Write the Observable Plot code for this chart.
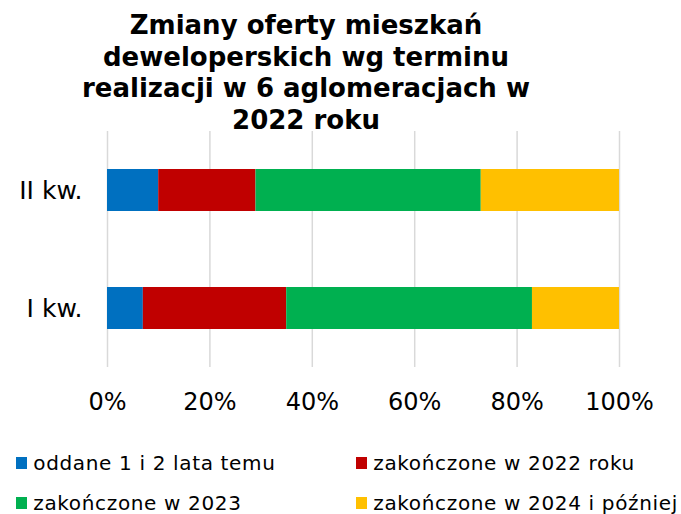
<!DOCTYPE html>
<html>
<head>
<meta charset="utf-8">
<script src="https://cdn.jsdelivr.net/npm/d3@7"></script>
<script src="https://cdn.jsdelivr.net/npm/@observablehq/plot@0.6"></script>
<style>
  html, body { margin: 0; padding: 0; background: #fff; }
  #wrap { position: relative; width: 681px; height: 514px; overflow: hidden; font-family: "DejaVu Sans", Verdana, sans-serif; color: #000; }
  #title { position: absolute; left: 0; top: 10px; width: 612px; text-align: center; font-weight: bold; font-size: 26px; line-height: 31.5px; }
  #chart { position: absolute; left: 0; top: 120px; }
  .leg { position: absolute; font-size: 20px; line-height: 20px; letter-spacing: 0.65px; white-space: nowrap; }
  .sw { position: absolute; width: 11.4px; height: 11.4px; }
</style>
</head>
<body>
<div id="wrap">
  <div id="title">Zmiany oferty mieszkań<br>deweloperskich wg terminu<br>realizacji w 6 aglomeracjach w<br>2022 roku</div>
  <div id="chart"></div>
  <div id="legend"></div>
</div>
<script>
const quarters = ["II kw.", "I kw."];
const series = ["oddane 1 i 2 lata temu", "zakończone w 2022 roku", "zakończone w 2023", "zakończone w 2024 i później"];
const colors = ["#0070C0", "#C00000", "#00B050", "#FFC000"];
const valuesIIkw = [10, 19, 44, 27];
const valuesIkw = [7, 28, 48, 17];
const xTicks = [0, 20, 40, 60, 80, 100];

const rows = [];
series.forEach((s, i) => {
  rows.push({quarter: quarters[0], series: s, value: valuesIIkw[i]});
  rows.push({quarter: quarters[1], series: s, value: valuesIkw[i]});
});

const chart = Plot.plot({
  width: 681,
  height: 297,
  marginTop: 11,
  marginBottom: 50,
  marginLeft: 107,
  marginRight: 62,
  style: {fontFamily: '"DejaVu Sans", Verdana, sans-serif', color: "#000", background: "transparent"},
  x: {domain: [0, 100]},
  y: {domain: quarters, paddingInner: 0.644, paddingOuter: 0.322},
  color: {domain: series, range: colors},
  marks: [
    Plot.ruleX(xTicks, {stroke: "#d9d9d9", strokeWidth: 1.5}),
    Plot.barX(rows, Plot.stackX({x: "value", y: "quarter", fill: "series", order: null, inset: 0})),
    Plot.axisX({ticks: xTicks, tickSize: 0, tickPadding: 25, fontSize: 24, tickFormat: d => d + "%", label: null}),
    Plot.axisY({tickSize: 0, tickPadding: 25, fontSize: 25, label: null})
  ]
});
document.getElementById("chart").appendChild(chart);

// legend
const legPos = [
  {sx: 16, tx: 33.3, row: 0},
  {sx: 356, tx: 373.3, row: 0},
  {sx: 16, tx: 33.3, row: 1},
  {sx: 356, tx: 373.3, row: 1}
];
const leg = document.getElementById("legend");
series.forEach((s, i) => {
  const p = legPos[i];
  const sq = document.createElement("div");
  sq.className = "sw";
  sq.style.left = p.sx + "px";
  sq.style.top = (457.3 + p.row * 40) + "px";
  sq.style.background = colors[i];
  leg.appendChild(sq);
  const t = document.createElement("div");
  t.className = "leg";
  t.style.left = p.tx + "px";
  t.style.top = (453.1 + p.row * 40) + "px";
  t.textContent = s;
  leg.appendChild(t);
});
</script>
</body>
</html>
